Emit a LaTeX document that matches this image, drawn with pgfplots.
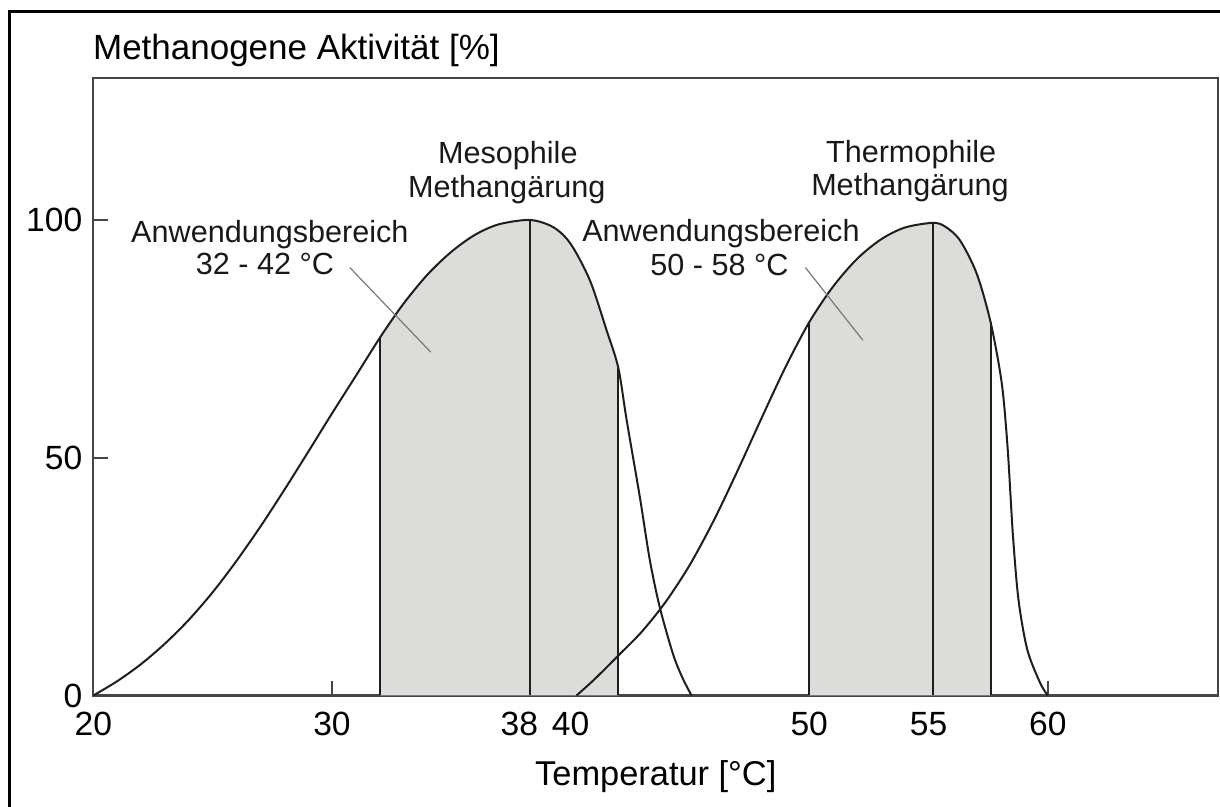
\documentclass[border=0pt]{standalone}
\usepackage{pgfplots}
\pgfplotsset{compat=1.18}
\usepgfplotslibrary{fillbetween}
\usepackage{pgfplotstable}
\usepackage{fontspec}
\setmainfont{Liberation Sans}
\definecolor{fillgrey}{RGB}{220,220,217}
\definecolor{axisgray}{RGB}{70,70,70}
\definecolor{curveblack}{RGB}{30,30,30}
\definecolor{leader}{RGB}{120,120,120}

\pgfplotstableread{
x y
20 0
21 3.0
22 6.6
23 10.9
24 15.9
25 21.7
26 28.3
27 35.5
28 43.2
29 51.2
30 59.3
31 67.2
32.03 75.4
33 82.4
34 88.5
35 93.3
36 96.9
37 99.1
38.3 100
39.27 98.5
40.0 95
40.81 87.3
41.51 76.8
42.0 68.9
42.35 57.9
42.9 41.8
43.32 28.5
43.74 18.5
44.3 8.6
44.7 3.6
45.07 0
}\meso

\pgfplotstableread{
x y
40.25 0
41 3.4
42 8.4
43 13.5
44 19.8
45 27.5
46 36.8
47 47.3
48 58.3
49 69.0
50 78.5
51 86.0
52 91.8
53 95.9
54 98.4
55.18 99.4
55.7 98.6
56.32 95.7
57.02 88.7
57.6 78.5
58.07 65.6
58.32 51.6
58.53 34.1
58.77 20.1
59.14 9.6
59.68 2.6
60 0
}\thermo

\begin{document}
\begin{tikzpicture}[x=1pt,y=1pt]
\begin{axis}[
  at={(46.65pt,55.75pt)}, anchor=south west,
  scale only axis, width=562.35pt, height=308.6pt,
  xmin=20, xmax=67.13, ymin=0, ymax=129.8,
  axis line style={axisgray, line width=1.1pt},
  tick pos=left, tick align=inside,
  xtick={30,40,60},
  extra x ticks={20,37.85,50,55},
  extra x tick labels={20,38,50,55},
  extra x tick style={major tick length=0pt},
  ytick={0,50,100},
  major tick length=7.3pt,
  tick style={axisgray, line width=1pt},
  /pgf/number format/assume math mode=true,
  ticklabel style={font=\fontsize{16.8}{20}\selectfont, text=black},
  xticklabel style={text height=12pt, text depth=0pt, yshift=-4.3pt},
  yticklabel style={xshift=-2pt},
]
\addplot[draw=none, name path=meso, smooth] table {\meso};
\addplot[draw=none, name path=thermo, smooth] table {\thermo};
\path[name path=base] (axis cs:20,0) -- (axis cs:67,0);
\addplot[fill=fillgrey, draw=none] fill between[of=meso and base, soft clip={domain=32.03:42}];
\addplot[fill=fillgrey, draw=none] fill between[of=thermo and base, soft clip={domain=50:57.6}];

\addplot[curveblack, line width=1pt, smooth] table {\meso};
\addplot[curveblack, line width=1pt, smooth] table {\thermo};

\addplot[curveblack, line width=1pt] coordinates {(32.03,0) (32.03,75.4)};
\addplot[curveblack, line width=1pt] coordinates {(38.3,0) (38.3,100)};
\addplot[curveblack, line width=1pt] coordinates {(42,0) (42,68.9)};
\addplot[curveblack, line width=1pt] coordinates {(50,0) (50,78.5)};
\addplot[curveblack, line width=1pt] coordinates {(55.18,0) (55.18,99.4)};
\addplot[curveblack, line width=1pt] coordinates {(57.6,0) (57.6,78.5)};

\addplot[leader, line width=0.6pt] coordinates {(30.75,90.0) (34.14,72.2)};
\addplot[leader, line width=0.6pt] coordinates {(49.84,90.0) (52.25,74.7)};

\begin{scope}[every node/.style={font=\fontsize{15.3}{18}\selectfont, anchor=base, inner sep=0pt, text=black!90}]
\node at (axis cs:37.37,111.8) {Mesophile};
\node at (axis cs:37.33,104.7) {Methangärung};
\node at (axis cs:54.27,112.1) {Thermophile};
\node at (axis cs:54.22,105.1) {Methangärung};
\node at (axis cs:27.40,95.3) {Anwendungsbereich};
\node at (axis cs:27.19,88.5) {32 - 42 °C};
\node at (axis cs:46.30,95.5) {Anwendungsbereich};
\node at (axis cs:46.24,88.3) {50 - 58 °C};
\end{scope}
\end{axis}

\node[anchor=base west, inner sep=0pt, font=\fontsize{17.5}{20}\selectfont] at (46.35,373.85) {Methanogene Aktivität [\%]};
\node[anchor=base, inner sep=0pt, font=\fontsize{17.2}{20}\selectfont] at (327.9,10.5) {Temperatur [°C]};

\draw[line width=1.5pt] (4.75,-5) -- (4.75,397.5) -- (620,397.5);

\pgfresetboundingbox
\path[use as bounding box] (0,0) rectangle (610,403.5);
\end{tikzpicture}
\end{document}
